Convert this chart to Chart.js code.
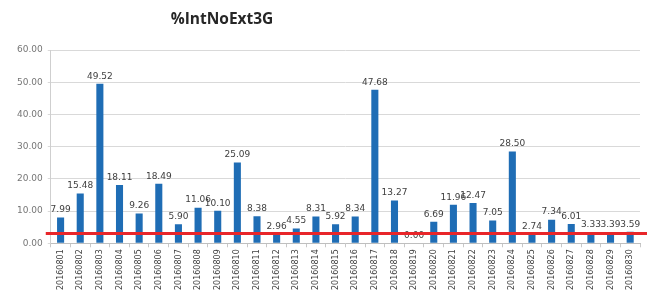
<!DOCTYPE html>
<html>
<head>
<meta charset="utf-8">
<script src="https://cdn.jsdelivr.net/npm/chart.js@4/dist/chart.umd.min.js"></script>
<style>
  html, body { margin: 0; padding: 0; background: #fff; }
  #wrap { width: 647px; height: 305px; position: relative; }
</style>
</head>
<body>
<div id="wrap"><canvas id="this-graph"></canvas></div>
<script>
// days of August 2016
var labels = ["20160801", "20160802", "20160803", "20160804", "20160805", "20160806",
    "20160807", "20160808", "20160809", "20160810", "20160811", "20160812",
    "20160813", "20160814", "20160815", "20160816", "20160817", "20160818",
    "20160819", "20160820", "20160821", "20160822", "20160823", "20160824",
    "20160825", "20160826", "20160827", "20160828", "20160829", "20160830"]

var values = [7.99, 15.48, 49.52, 18.11, 9.26, 18.49,
    5.90, 11.06, 10.10, 25.09, 8.38, 2.96,
    4.55, 8.31, 5.92, 8.34, 47.68, 13.27,
    0.00, 6.69, 11.96, 12.47, 7.05, 28.50,
    2.74, 7.34, 6.01, 3.33, 3.39, 3.59]

var threshold = 3
var title_text = "%IntNoExt3G"

var bar_color = "#1f6db5"
var line_color = "#e8262a"
var font_family = "'DejaVu Sans', Verdana, sans-serif"

// value labels above each bar
var valueLabels = {
    id: "valueLabels",
    afterDatasetsDraw(chart) {
        var ctx = chart.ctx
        var meta = chart.getDatasetMeta(0)
        ctx.save()
        ctx.font = "9px " + font_family
        ctx.fillStyle = "#404040"
        ctx.textAlign = "center"
        ctx.textBaseline = "bottom"
        meta.data.forEach(function (bar, i) {
            ctx.fillText(values[i].toFixed(2), bar.x, bar.y - 3)
        })
        ctx.restore()
    }
}

// red limit line across the plot
var limitLine = {
    id: "limitLine",
    afterDraw(chart) {
        var ctx = chart.ctx
        var y = chart.scales.y.getPixelForValue(threshold)
        ctx.save()
        ctx.strokeStyle = line_color
        ctx.lineWidth = 3
        ctx.beginPath()
        ctx.moveTo(chart.chartArea.left - 5, y)
        ctx.lineTo(chart.width, y)
        ctx.stroke()
        ctx.restore()
    }
}

// title sits left of centre like in the source picture
var titlePlugin = {
    id: "titleText",
    afterDraw(chart) {
        var ctx = chart.ctx
        ctx.save()
        ctx.font = "bold 15.5px 'Open Sans', 'Liberation Sans', sans-serif"
        ctx.fillStyle = "#262626"
        ctx.textAlign = "center"
        ctx.textBaseline = "middle"
        ctx.fillText(title_text, 222, 20)
        ctx.restore()
    }
}

var graph = document.getElementById("this-graph")
var myChart = new Chart(graph, {
    type: "bar",
    data: {
        labels: labels,
        datasets: [{
            data: values,
            backgroundColor: bar_color,
            barPercentage: 0.36,
            categoryPercentage: 1.0
        }]
    },
    options: {
        responsive: true,
        maintainAspectRatio: false,
        animation: false,
        layout: { padding: { top: 50, right: 7, left: 12, bottom: 13 } },
        plugins: {
            legend: { display: false },
            tooltip: { enabled: false }
        },
        scales: {
            x: {
                grid: {
                    offset: true,
                    drawOnChartArea: false,
                    tickLength: 4,
                    color: "#c8c8c8"
                },
                border: { color: "#bfbfbf" },
                ticks: {
                    autoSkip: false,
                    maxRotation: 90,
                    minRotation: 90,
                    padding: 2,
                    color: "#404040",
                    font: { size: 8, family: font_family }
                }
            },
            y: {
                min: 0,
                max: 60,
                ticks: {
                    stepSize: 10,
                    padding: 5,
                    color: "#767676",
                    font: { size: 9, family: font_family },
                    callback: function (v) { return v.toFixed(2) }
                },
                grid: { color: "#d9d9d9", tickLength: 3 },
                border: { display: true, color: "#cfcfcf" }
            }
        }
    },
    plugins: [valueLabels, limitLine, titlePlugin]
})
</script>
</body>
</html>
